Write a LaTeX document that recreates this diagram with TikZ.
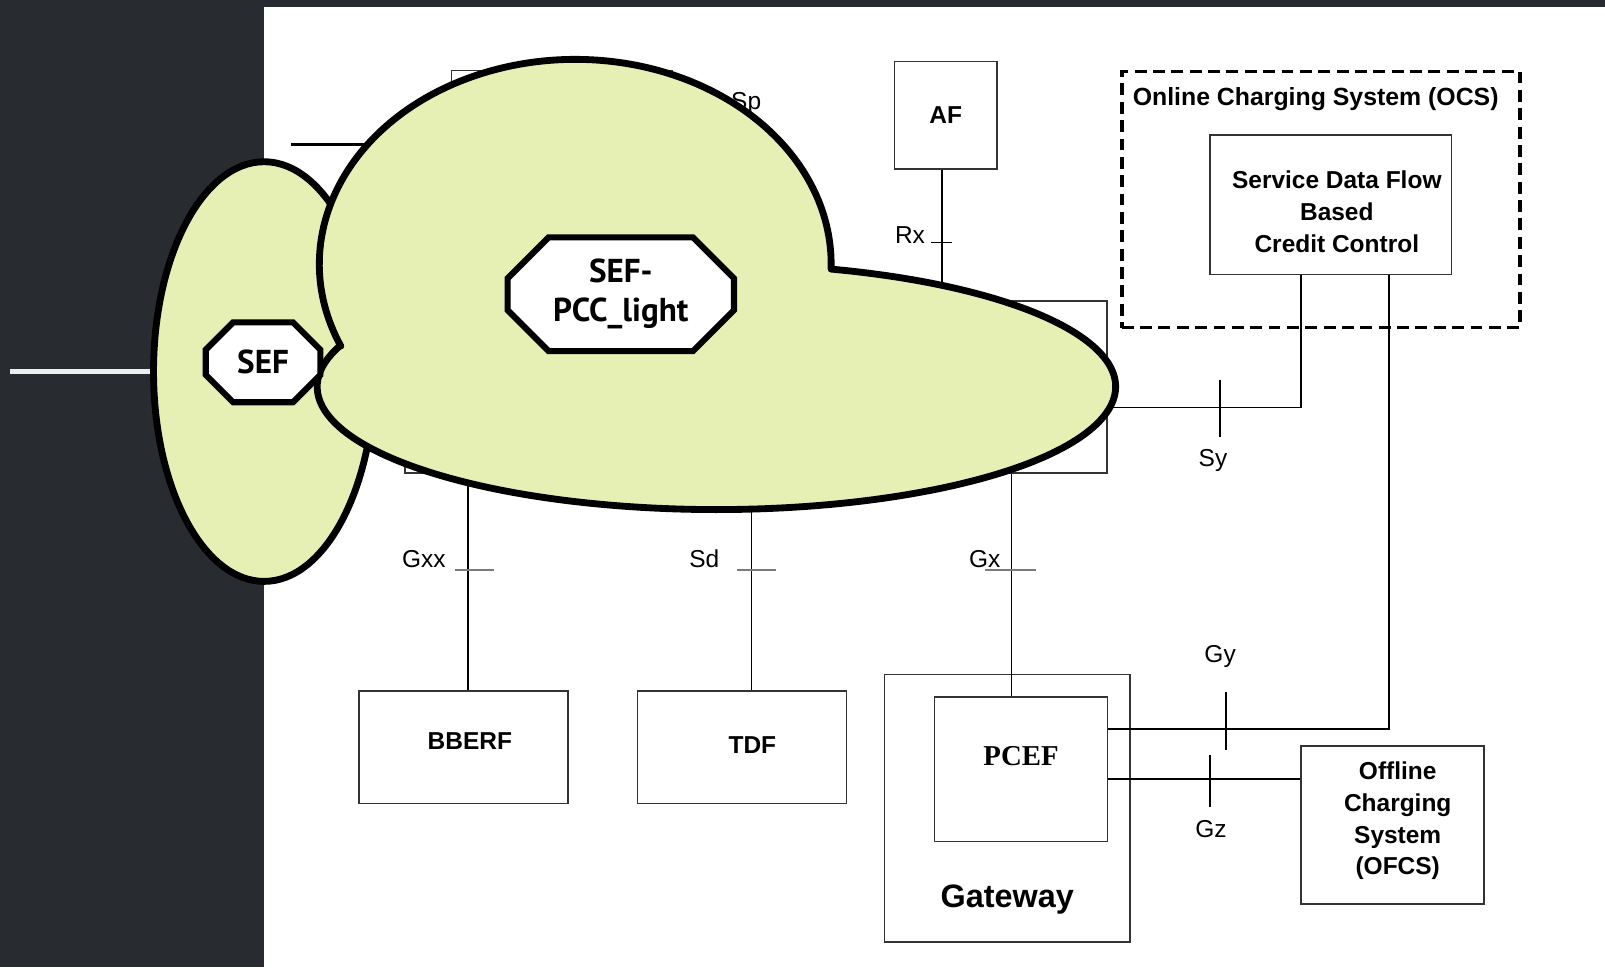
\documentclass[tikz,border=0pt]{standalone}
\usepackage{fontspec}
\setmainfont{Liberation Sans}
\newfontfamily\sefont{PT Sans}
\newfontfamily\pcefont{Liberation Serif}
\usetikzlibrary{positioning,shapes.misc,calc}
\definecolor{slide}{HTML}{282C30}
\definecolor{blobfill}{HTML}{E6F0B4}
\definecolor{edge}{HTML}{333333}
\definecolor{tickgrey}{HTML}{7A7A7A}
\definecolor{stripe}{HTML}{EEEEEE}
\tikzset{
  box/.style={draw=edge,line width=0.45pt,fill=white,inner sep=0pt,align=center,font=\bfseries\fontsize{6.8}{8.8}\selectfont},
  boxtext/.style={inner sep=0pt,align=center,font=\bfseries\fontsize{6.8}{8.8}\selectfont},
  ocsgroup/.style={draw=black,line width=1pt,dash pattern=on 3.3pt off 1.8pt,inner sep=0pt},
  iface/.style={draw=black,line width=0.45pt},
  tick/.style={draw=black,line width=0.45pt},
  greytick/.style={draw=tickgrey,line width=0.45pt},
  lbl/.style={font=\fontsize{6.8}{8}\selectfont,inner sep=0pt},
  blob/.style={fill=blobfill,draw=black,line width=1.9pt,line join=round},
  octo/.style={chamfered rectangle,fill=white,draw=black,line width=1.7pt,inner sep=0pt,align=center,font=\sefont\bfseries\fontsize{9.2}{10.8}\selectfont}
}
\begin{document}
\begin{tikzpicture}[x=0.01cm,y=0.01cm]
\useasboundingbox (0,0) rectangle (1568,945);
\fill[slide] (0,0) rectangle (1568,945);
\fill[white] (258,0) rectangle (1568,938);
\draw[stripe,line width=1.6pt] (10,582) -- (160,582);
\draw[black,line width=0.9pt] (284,804) -- (370,804);

% boxes
\node[box,minimum width=2.16cm,minimum height=0.81cm] (spr) at (549,835.5) {};
\node[box,minimum width=6.85cm,minimum height=1.68cm] (pcrf) at (738.5,567) {};
\node[box,minimum width=1cm,minimum height=1.05cm] (af) at (924,832.5) {AF};
\node[ocsgroup,minimum width=3.89cm,minimum height=2.5cm] (ocs) at (1290.5,750) {};
\node[anchor=west,inner sep=0pt,font=\bfseries\fontsize{6.9}{8}\selectfont] (ocslbl) at (1106,848) {Online Charging System (OCS)};
\node[box,minimum width=2.36cm,minimum height=1.36cm] (sdf) at (1300,745) {};
\node[boxtext] (sdftxt) at ([xshift=0.06cm,yshift=-0.07cm]sdf.center) {Service Data Flow\\Based\\Credit Control};
\node[box,minimum width=2.04cm,minimum height=1.1cm] (bberf) at (453,215) {};
\node[boxtext] (bberftxt) at ([xshift=0.06cm,yshift=0.06cm]bberf.center) {BBERF};
\node[box,minimum width=2.04cm,minimum height=1.1cm] (tdf) at (725,215) {};
\node[boxtext] (tdftxt) at ([xshift=0.1cm,yshift=0.02cm]tdf.center) {TDF};
\node[box,minimum width=2.4cm,minimum height=2.61cm] (gw) at (984,155.5) {};
\node[box,minimum width=1.69cm,minimum height=1.41cm] (pcef) at (997.5,193.5) {};
\node[font=\pcefont\bfseries\fontsize{8}{9}\selectfont] (pceflbl) at ([yshift=-0.58cm]pcef.north) {PCEF};
\node[font=\bfseries\fontsize{9}{10}\selectfont] (gwlbl) at ([yshift=0.42cm]gw.south) {Gateway};
\node[box,minimum width=1.79cm,minimum height=1.54cm] (ofcs) at (1360.5,139) {};
\node[boxtext] (ofcstxt) at ([xshift=0.05cm,yshift=0.04cm]ofcs.center) {Offline\\Charging\\System\\(OFCS)};

% reference points
\node[lbl] (splbl) at (729,844) {Sp};
\coordinate (rx) at (920,708);
\draw[iface] (af.south -| rx) -- (pcrf.north -| rx);
\draw[tick] ([xshift=-1mm]rx) -- ([xshift=1mm]rx);
\node[lbl] (rxlbl) at (889,715) {Rx};

\coordinate (sy) at (1271,547);
\coordinate (sytick) at (1192,547);
\draw[iface] (pcrf.east |- sy) -- (sy) -- (sdf.south -| sy);
\draw[tick] ([yshift=2.7mm]sytick) -- ([yshift=-2.9mm]sytick);
\node[lbl] (sylbl) at (1185,495) {Sy};

\coordinate (gy) at (1357,233);
\coordinate (gytick) at (1198,233);
\draw[iface] (sdf.south -| gy) -- (gy) -- (pcef.east |- gy);
\draw[tick] ([yshift=3.6mm]gytick) -- ([yshift=-2.1mm]gytick);
\node[lbl] (gylbl) at (1192,304) {Gy};

\coordinate (gz) at (1182,184);
\draw[iface] (pcef.east |- gz) -- (ofcs.west |- gz);
\draw[tick] ([yshift=2.3mm]gz) -- ([yshift=-2.7mm]gz);
\node[lbl] (gzlbl) at (1183,135) {Gz};

\coordinate (gxx) at (457,388);
\draw[iface] (pcrf.south -| gxx) -- (bberf.north -| gxx);
\draw[greytick] ([xshift=-1.2mm]gxx) -- ([xshift=2.6mm]gxx);
\node[lbl] (gxxlbl) at (414,399) {Gxx};

\coordinate (sd) at (734,388);
\draw[iface] (pcrf.south -| sd) -- (tdf.north -| sd);
\draw[greytick] ([xshift=-1.4mm]sd) -- ([xshift=2.4mm]sd);
\node[lbl] (sdlbl) at (688,399) {Sd};

\coordinate (gx) at (988,388);
\draw[iface] (pcrf.south -| gx) -- (pcef.north -| gx);
\draw[greytick] ([xshift=-2.6mm]gx) -- ([xshift=2.4mm]gx);
\node[lbl] (gxlbl) at (962,399) {Gx};

% overlay blobs
\filldraw[blob] (258,582) ellipse [x radius=108, y radius=205];
\filldraw[blob] ([shift={(203.6:250 and 200)}]562,687) arc[start angle=203.6,end angle=-1.4,x radius=250,y radius=200]
  arc[start angle=73.3,end angle=-199.5,x radius=390,y radius=120] -- cycle;
\node[octo,minimum width=1.12cm,minimum height=0.78cm,chamfered rectangle xsep=1.5mm,chamfered rectangle ysep=1.5mm] (sef) at (257,591) {SEF};
\node[octo,minimum width=2.21cm,minimum height=1.11cm,chamfered rectangle xsep=2mm,chamfered rectangle ysep=2mm] (sefpcc) at (606.5,657.5) {SEF-\\PCC\_light};
\end{tikzpicture}
\end{document}
